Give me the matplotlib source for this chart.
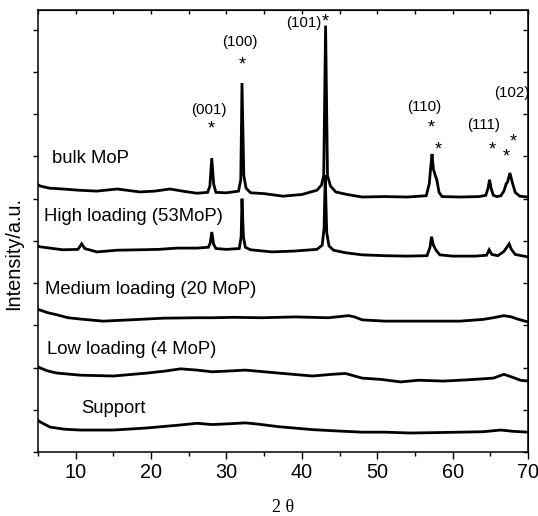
import numpy as np
import matplotlib
matplotlib.use("Agg")
import matplotlib.pyplot as plt

# ---- data (2theta, intensity in offset units) ----
bulk_pts = [(5.0, 6.33), (5.3, 6.30), (6.5, 6.25), (8.3, 6.23), (10.5, 6.20), (12.8, 6.18),
            (15.5, 6.23), (18.5, 6.16), (20.5, 6.18), (22.5, 6.23), (24.5, 6.17), (26.1, 6.13),
            (27.5, 6.15), (27.8, 6.30), (28.05, 6.96), (28.3, 6.35), (28.6, 6.15), (30.0, 6.14),
            (31.6, 6.18), (31.9, 6.45), (32.06, 8.74), (32.3, 6.55), (32.6, 6.25), (33.2, 6.14),
            (35.0, 6.12), (37.5, 6.06), (40.0, 6.10), (42.0, 6.20), (42.6, 6.32), (42.9, 6.55),
            (43.15, 10.10), (43.4, 6.55), (43.8, 6.30), (44.5, 6.16), (46.0, 6.10), (48.0, 6.04),
            (51.0, 6.05), (54.0, 6.04), (56.5, 6.07), (56.9, 6.35), (57.1, 6.75), (57.27, 7.06),
            (57.45, 6.70), (57.7, 6.55), (57.9, 6.45), (58.2, 6.15), (58.6, 6.05), (61.0, 6.04),
            (63.5, 6.05), (64.4, 6.08), (64.7, 6.25), (64.9, 6.45), (65.1, 6.25), (65.4, 6.08),
            (65.9, 6.05), (66.4, 6.07), (66.8, 6.18), (67.1, 6.35), (67.3, 6.40), (67.6, 6.61),
            (67.9, 6.40), (68.3, 6.15), (68.9, 6.06), (70.0, 6.04)]

high_pts = [(5.0, 4.88), (5.3, 4.86), (7.0, 4.82), (8.3, 4.79), (10.3, 4.80), (10.8, 4.93),
            (11.2, 4.82), (12.8, 4.74), (15.5, 4.78), (18.5, 4.79), (21.0, 4.80), (23.5, 4.83),
            (26.1, 4.83), (27.6, 4.85), (27.85, 4.95), (28.05, 5.21), (28.3, 4.92), (28.6, 4.82),
            (30.0, 4.80), (31.7, 4.82), (31.95, 5.10), (32.06, 6.00), (32.25, 5.10), (32.5, 4.85),
            (33.2, 4.79), (36.0, 4.74), (39.0, 4.76), (42.0, 4.80), (42.7, 4.90), (42.95, 5.30),
            (43.1, 6.55), (43.3, 5.20), (43.6, 4.88), (44.2, 4.78), (45.8, 4.72), (48.0, 4.67),
            (51.0, 4.65), (54.0, 4.64), (56.6, 4.65), (57.0, 4.85), (57.2, 5.10), (57.45, 4.90),
            (57.8, 4.78), (58.3, 4.67), (60.0, 4.64), (63.0, 4.64), (64.5, 4.66), (64.85, 4.79),
            (65.2, 4.68), (66.0, 4.65), (66.8, 4.75), (67.2, 4.85), (67.5, 4.93), (67.8, 4.80),
            (68.3, 4.68), (70.0, 4.62)]

medium_pts = [(5.0, 3.38), (5.3, 3.36), (6.3, 3.30), (7.5, 3.25), (9.0, 3.18), (10.6, 3.15),
              (13.6, 3.10), (17.2, 3.13), (21.6, 3.17), (26.1, 3.18), (28.1, 3.18), (31.0, 3.19),
              (34.7, 3.18), (39.1, 3.20), (43.5, 3.18), (46.2, 3.23), (47.0, 3.20), (48.0, 3.13),
              (51.0, 3.10), (54.4, 3.10), (58.0, 3.10), (61.0, 3.10), (64.0, 3.14), (65.4, 3.18),
              (66.8, 3.23), (67.8, 3.20), (68.6, 3.15), (70.0, 3.08)]

low_pts = [(5.0, 2.02), (5.3, 1.99), (6.3, 1.92), (7.5, 1.87), (10.6, 1.82), (15.0, 1.80),
           (19.5, 1.87), (22.0, 1.92), (23.9, 1.97), (26.1, 1.94), (28.1, 1.90), (30.5, 1.92),
           (32.5, 1.94), (36.9, 1.87), (41.4, 1.80), (44.0, 1.84), (45.8, 1.86), (48.0, 1.75),
           (50.5, 1.72), (53.1, 1.66), (55.5, 1.70), (58.8, 1.68), (62.0, 1.71), (65.4, 1.75),
           (66.8, 1.84), (67.8, 1.78), (69.0, 1.70), (70.0, 1.68)]

support_pts = [(5.0, 0.75), (5.3, 0.71), (6.6, 0.59), (8.5, 0.54), (10.6, 0.52), (15.0, 0.52),
               (19.5, 0.57), (23.9, 0.64), (26.1, 0.68), (28.1, 0.65), (30.5, 0.67), (32.5, 0.69),
               (34.2, 0.66), (36.9, 0.60), (41.4, 0.53), (44.5, 0.50), (48.0, 0.47), (51.0, 0.47),
               (54.4, 0.45), (58.0, 0.46), (61.0, 0.47), (64.0, 0.48), (66.4, 0.52), (68.0, 0.49),
               (70.0, 0.47)]

series_labels = ["bulk MoP", "High loading (53MoP)", "Medium loading (20 MoP)",
                 "Low loading (4 MoP)", "Support"]
series_label_pos = [(6.9, 6.96), (5.8, 5.57), (5.9, 3.84), (6.2, 2.42), (10.7, 1.04)]

hkl_labels = ["(001)", "(100)", "(101)", "(110)", "(111)", "(102)"]
hkl_pos = [(27.7, 8.10), (31.8, 9.72), (40.3, 10.17), (56.3, 8.17), (64.1, 7.75), (67.8, 8.50)]
star_pos = [(28.0, 7.66), (32.1, 9.16), (43.1, 10.18), (57.1, 7.68), (58.1, 7.16),
            (65.2, 7.16), (67.1, 7.00), (68.0, 7.34)]

xticks = [10, 20, 30, 40, 50, 60, 70]
yticks = list(range(0, 11))

# ---- figure ----
fig = plt.figure(figsize=(5.38, 5.16), dpi=100)
ax = fig.add_axes([38 / 538, 1 - 452 / 516, 490 / 538, 442 / 516])

for pts in [bulk_pts, high_pts, medium_pts, low_pts, support_pts]:
    arr = np.array(pts)
    ax.plot(arr[:, 0], arr[:, 1], color="black", lw=2.0, solid_joinstyle="miter")

for lab, (x, y) in zip(series_labels, series_label_pos):
    ax.text(x, y, lab, fontsize=13.3, ha="left", va="center", family="Liberation Sans")

for lab, (x, y) in zip(hkl_labels, hkl_pos):
    ax.text(x, y, lab, fontsize=10.8, ha="center", va="center", family="Liberation Sans",
            clip_on=False)
for (x, y) in star_pos:
    ax.text(x, y, "*", fontsize=13, ha="center", va="center", family="Liberation Sans")

ax.set_xlim(5, 70)
ax.set_ylim(0, 10.47)
ax.set_xticks(xticks)
ax.set_xticks([5, 15, 25, 35, 45, 55, 65], minor=True)
ax.set_yticks(yticks)
ax.set_yticklabels([])
ax.tick_params(axis="x", which="major", direction="out", length=5, width=1.0,
               labelsize=14.3, pad=3)
ax.tick_params(axis="x", which="minor", direction="out", length=3, width=1.0)
ax.tick_params(axis="y", which="major", direction="out", length=3.5, width=1.0)
for lbl in ax.get_xticklabels():
    lbl.set_family("Liberation Sans")
for sp in ax.spines.values():
    sp.set_linewidth(1.1)

top = ax.secondary_xaxis("top")
top.set_xticks([5, 10, 15, 20, 25, 30, 35, 40, 45, 50, 55, 60, 65, 70])
top.set_xticklabels([])
top.tick_params(direction="in", length=3, width=1.0)
right = ax.secondary_yaxis("right")
right.set_yticks(yticks)
right.set_yticklabels([])
right.tick_params(direction="in", length=3.5, width=1.0)

ax.set_ylabel("Intensity/a.u.", fontsize=14.3, family="Liberation Sans")
ax.yaxis.set_label_coords(-0.03, 0.448)
fig.text(283 / 538, 1 - 508 / 516, "2 θ", fontsize=13, family="Liberation Serif",
         ha="center", va="center")

fig.savefig("out.png", dpi=100)
